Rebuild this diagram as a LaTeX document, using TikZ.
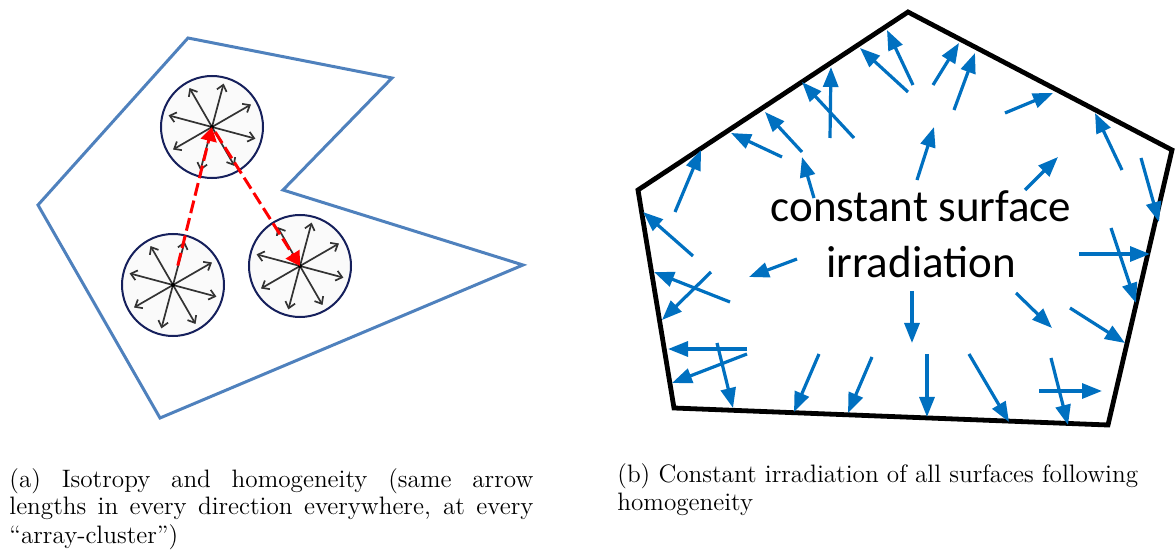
\documentclass[tikz,border=0pt]{standalone}
\usepackage{fontspec}
\newfontfamily\labelfont{Carlito}
\usetikzlibrary{arrows.meta}
\definecolor{shapeblue}{RGB}{79,129,189}
\definecolor{ringnavy}{RGB}{22,32,92}
\definecolor{irrblue}{RGB}{0,112,192}

\begin{document}
\begin{tikzpicture}[x=0.5pt, y=-0.5pt,
  region/.style={draw=shapeblue, line width=1.5pt, line join=miter},
  cluster/.style={draw=ringnavy, line width=1pt, fill=black!2},
  ray/.style={-{Straight Barb[length=3pt,width=5pt]}, draw=black!80, line width=0.85pt},
  jump/.style={-{Triangle[length=7pt,width=8pt]}, draw=red, line width=1.5pt, dash pattern=on 6.5pt off 2.5pt},
  room/.style={draw=black, line width=2.4pt, line join=miter},
  beam/.style={-{Triangle[length=10pt,width=7.5pt]}, draw=irrblue, line width=1.6pt},
  caption/.style={font=\fontsize{12.6}{14}\selectfont, align=left, inner sep=0pt}
]
\useasboundingbox (0,0) rectangle (1175,556);

% (a) domain with three array-clusters
\draw[region] (188,38) -- (392,78) -- (283,190) -- (523,265) -- (160,418) -- (38,205) -- cycle;
\coordinate (clustertop) at (212,127);
\coordinate (clusterleft) at (173,285);
\coordinate (clusterright) at (300,266);
\foreach \c in {clustertop,clusterleft,clusterright}{
  \draw[cluster] (\c) circle[radius=51];
  \foreach \a in {30,75,...,345}
    \draw[ray] (\c) -- ++(-\a:45);
  \fill (\c) circle[radius=2];
}
\draw[jump, shorten <=10pt] (clusterleft) -- (clustertop);
\draw[jump, shorten <=3pt] (clustertop) -- (clusterright);

% (b) enclosure irradiated from inside
\draw[room] (908,12) -- (1172,150) -- (1108,425) -- (674,408) -- (638,190) -- cycle;
\foreach \tx/\ty/\hx/\hy in {
  913/85/887/30, 908/92/860/48, 933/85/959/43, 954/110/975/53,
  830/138/831/67, 854/138/802/82, 802/152/765/112, 782/157/731/133,
  814/198/802/157, 917/180/934/127, 1005/113/1053/93, 1025/190/1058/157,
  1122/170/1095/113, 1141/158/1159/222, 675/212/701/150, 693/256/643/212,
  797/259/749/277, 711/272/662/320, 730/302/654/272, 1111/228/1136/303,
  1079/254/1150/254, 1016/293/1052/328, 1070/308/1125/343, 912/291/912/343,
  747/349/668/349, 747/354/672/383, 717/343/733/408, 819/354/794/412,
  872/357/848/413, 927/354/927/417, 969/354/1009/422, 1051/358/1068/425,
  1039/391/1102/391}
  \draw[beam] (\tx,\ty) -- (\hx,\hy);
\node[font=\labelfont\fontsize{22.5}{28}\selectfont, align=center, anchor=base, inner sep=0pt] (irrlabel) at (921,278) {constant surface\\irradiation};

% captions
\node[caption, anchor=base west] (capa) at (9,543) {\makebox[262pt][s]{(a) Isotropy and homogeneity (same arrow}\\
  \makebox[262pt][s]{lengths in every direction everywhere, at every}\\
  ``array-cluster'')};
\node[caption, anchor=base west] (capb) at (617,510) {(b) Constant irradiation of all surfaces following\\homogeneity};
\end{tikzpicture}
\end{document}
